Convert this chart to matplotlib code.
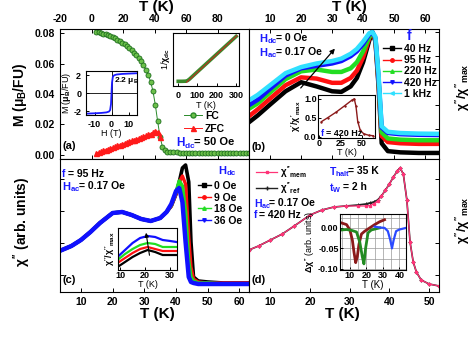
import numpy as np
import matplotlib.pyplot as plt
from matplotlib.lines import Line2D
from matplotlib.ticker import FormatStrFormatter

plt.rcParams.update({
    'font.family': ['Liberation Sans', 'DejaVu Sans'],
    'font.weight': 'bold',
    'mathtext.fontset': 'custom',
    'mathtext.rm': 'Liberation Sans:bold',
    'mathtext.it': 'Liberation Sans:bold',
    'mathtext.bf': 'Liberation Sans:bold',
    'mathtext.sf': 'Liberation Sans:bold',
    'axes.linewidth': 0.8,
    'xtick.direction': 'in', 'ytick.direction': 'in',
    'xtick.major.size': 3, 'ytick.major.size': 3,
    'xtick.major.width': 0.7, 'ytick.major.width': 0.7,
    'xtick.labelsize': 7.5, 'ytick.labelsize': 7.5,
    'axes.unicode_minus': False,
})

# ---- (a) magnetisation FC / ZFC ----
FC_T = [3, 4.5, 6, 7.5, 9, 10.5, 12, 13.5, 15, 16.5, 18, 19.5, 21, 22.5, 24, 25.5,
        27, 28.5, 30, 31.5, 33, 34.5, 36, 37.5, 39, 40.5, 42, 43.5, 45, 46.5, 48,
        50, 52, 54, 56, 58, 60, 62, 64, 66, 68, 70, 72, 74, 76, 78, 80, 82, 84,
        86, 88, 90, 92, 94, 96, 98, 100]
FC_M = [0.0808, 0.0805, 0.0801, 0.0797, 0.0792, 0.0786, 0.0780, 0.0773, 0.0765,
        0.0757, 0.0748, 0.0738, 0.0727, 0.0715, 0.0702, 0.0688, 0.0672, 0.0655,
        0.0636, 0.0614, 0.0589, 0.0560, 0.0525, 0.0482, 0.0420, 0.0330, 0.0220,
        0.0120, 0.0055, 0.0030, 0.0021,
        0.0018, 0.0017, 0.0016, 0.0015, 0.0015, 0.0014, 0.0014, 0.0013, 0.0013,
        0.0013, 0.0012, 0.0012, 0.0012, 0.0012, 0.0011, 0.0011, 0.0011, 0.0011,
        0.0011, 0.0010, 0.0010, 0.0010, 0.0010, 0.0010, 0.0010, 0.0010]
ZFC_T = [3, 4.5, 6, 7.5, 9, 10.5, 12, 13.5, 15, 16.5, 18, 19.5, 21, 22.5, 24, 25.5,
         27, 28.5, 30, 31.5, 33, 34.5, 36, 37.5, 39, 40.5, 42, 43.5]
ZFC_M = [0.0012, 0.0018, 0.0023, 0.0029, 0.0034, 0.0040, 0.0045, 0.0051, 0.0056,
         0.0062, 0.0067, 0.0073, 0.0078, 0.0084, 0.0089, 0.0095, 0.0100, 0.0106,
         0.0111, 0.0117, 0.0122, 0.0128, 0.0134, 0.0140, 0.0148, 0.0160, 0.0152,
         0.0115]

# inset: M(H) loop
MH_H = [-15, -10, -6, -3, -1.5, -0.8, -0.3, 0, 0.3, 0.8, 1.5, 3, 6, 10, 15]
MH_M = [-2.25, -2.21, -2.17, -2.11, -2.02, -1.85, -1.2, 0, 1.2, 1.85, 2.02, 2.11,
        2.17, 2.21, 2.25]
# inset: inverse susceptibility
INV_T = [2, 20, 40, 50, 60, 100, 150, 200, 250, 300]
INV_CHI = [0.4, 0.4, 0.45, 0.7, 1.3, 4.2, 7.8, 11.4, 15.0, 18.6]
FIT_T = [45, 305]
FIT_CHI = [0.0, 19.0]

# ---- (b) frequency dependence ----
B_T = [3.5, 6, 10, 15, 20, 25, 30, 33, 36, 38, 40, 42, 43, 44, 45, 46, 48, 52, 58, 64.5]
B_40 = [0.26, 0.31, 0.40, 0.51, 0.585, 0.55, 0.51, 0.505, 0.55, 0.62, 0.75, 0.93,
        1.0, 0.92, 0.55, 0.08, 0.015, 0.005, 0.0, 0.0]
B_95 = [0.31, 0.36, 0.45, 0.56, 0.625, 0.615, 0.58, 0.58, 0.62, 0.68, 0.79, 0.95,
        1.0, 0.93, 0.58, 0.14, 0.09, 0.08, 0.075, 0.075]
B_220 = [0.37, 0.41, 0.50, 0.61, 0.675, 0.69, 0.67, 0.67, 0.70, 0.75, 0.84, 0.96,
         1.0, 0.94, 0.60, 0.17, 0.12, 0.11, 0.105, 0.105]
B_420 = [0.40, 0.44, 0.53, 0.64, 0.70, 0.72, 0.74, 0.76, 0.80, 0.84, 0.90, 0.98,
         1.0, 0.95, 0.62, 0.21, 0.165, 0.155, 0.15, 0.148]
B_1k = [0.44, 0.48, 0.56, 0.66, 0.71, 0.74, 0.76, 0.78, 0.82, 0.86, 0.92, 0.99,
        1.0, 0.96, 0.65, 0.22, 0.175, 0.165, 0.16, 0.158]
B_LABELS = ['40 Hz', '95 Hz', '220 Hz', '420 Hz', '1 kHz']
B_COLORS = ['black', '#ff1010', '#22dd22', '#1010ff', '#30e0ff']
B_MARKERS = ['s', 'o', '^', 'v', '<']
# inset: real part
BI_T = [3, 10, 20, 30, 38, 41, 43, 45, 48, 52, 58, 63]
BI_CHI = [0.40, 0.50, 0.65, 0.82, 0.96, 1.0, 0.80, 0.40, 0.17, 0.08, 0.04, 0.03]

# ---- (c) dc field dependence ----
C_T = [4, 7, 10, 13, 16, 20, 23, 26, 29, 32, 35, 37, 38.5, 40, 41, 42, 43, 44,
       44.7, 45.5, 47, 50, 55, 63]
C_0 = [42, 46, 52, 60, 69, 79, 80, 77, 73, 71, 74, 80, 86, 98, 110, 124, 127, 110,
       50, 15, 11, 10, 9, 9]
C_9 = [42, 46, 52, 60, 69, 79, 80, 77, 73, 71, 74, 80, 86, 98, 110, 116, 108, 55,
       25, 13, 10, 9, 9, 9]
C_18 = [42, 46, 52, 60, 69, 79, 80, 77, 73, 71, 74, 80, 87, 100, 111, 106, 80, 30,
        15, 11, 9, 9, 8, 8]
C_36 = [42, 46, 52, 60, 69, 79, 80, 77, 73, 71, 74, 80, 88, 101, 104, 90, 50, 15,
        10, 9, 8, 8, 8, 8]
C_LABELS = ['0 Oe', '9 Oe', '18 Oe', '36 Oe']
C_COLORS = ['black', '#ff1010', '#22dd22', '#1010ff']
C_MARKERS = ['s', 'o', '^', 'v']
CI_T = [9, 12, 15, 18, 21, 24, 27, 30, 32.5]
CI_0 = [3, 8, 13, 17, 20, 18, 15, 15, 15]
CI_9 = [7, 12, 17, 21, 23, 21, 19, 19, 19]
CI_18 = [10, 16, 21, 25, 27, 26, 23, 23, 23]
CI_36 = [13, 20, 27, 32, 34, 33, 30, 29, 28]

# ---- (d) memory ----
D_T = [4.6, 7, 10, 13, 16, 20, 23, 26, 29, 32, 34, 35, 36, 37, 38, 39, 40, 41, 42,
       42.7, 43.5, 44.4, 45.2, 46, 46.8, 48, 50, 52.5]
D_REF = [42, 46, 52, 58, 66, 77, 82, 85, 86, 87, 88, 89, 90, 92, 96, 102, 108, 115,
         121, 124, 118, 92, 50, 30, 20, 12, 8, 6]
D_MEM = [42, 46, 52, 58, 66, 77, 82, 85, 86, 86, 86, 86.5, 88, 91, 96, 102, 108, 115,
         121, 124, 118, 92, 50, 30, 20, 12, 8, 6]
DR_T = [5, 8, 10, 11.5, 12.5, 13.5, 14.5, 15.5, 17, 19, 22, 25, 28, 31]
DR_V = [0.012, 0.008, -0.005, -0.03, -0.06, -0.085, -0.07, -0.04, -0.015, -0.008,
        0.0, 0.008, 0.015, 0.02]
DG_T = [5, 8, 11, 14, 16, 17.5, 18.5, 19.5, 21, 23, 26, 28]
DG_V = [-0.005, -0.004, -0.006, -0.01, -0.035, -0.07, -0.088, -0.05, -0.012,
        -0.005, -0.002, 0.0]
DB_T = [25, 28, 31, 33, 34.5, 35.5, 36.5, 38, 40, 42, 44]
DB_V = [0.003, 0.001, 0.0, -0.008, -0.03, -0.05, -0.03, -0.008, -0.004, -0.002, 0.0]

W, H = 474, 338
fig = plt.figure(figsize=(W / 100, H / 100), dpi=100)


def box(x0, y0, x1, y1):
    return fig.add_axes([x0 / W, 1 - y1 / H, (x1 - x0) / W, (y1 - y0) / H])


def ftext(x, y, s, **kw):
    kw.setdefault('va', 'center')
    kw.setdefault('ha', 'left')
    return fig.text(x / W, 1 - y / H, s, **kw)


def legend_at(ax, handles, labels, x, y, **kw):
    opts = dict(loc='upper left', bbox_to_anchor=(x / W, 1 - y / H),
                bbox_transform=fig.transFigure, frameon=False, fontsize=7.5,
                handlelength=1.7, handletextpad=0.3, borderpad=0, borderaxespad=0)
    opts.update(kw)
    ax.legend(handles, labels, **opts)


BLUE = '#1a1aff'

# ================= panel (a) =================
axA = box(60, 29, 249, 159)
axA.plot(FC_T, FC_M, '-o', color='#2a8a2a', mfc='#6cc04a', mec='#1d6e1d',
         ms=3.6, lw=0.7, mew=0.6)
axA.plot(ZFC_T, ZFC_M, '-^', color='#ff1a1a', ms=3.6, lw=0.7)
axA.set_xlim(-20, 100)
axA.set_ylim(-0.0027, 0.0827)
axA.set_xticks([-20, 0, 20, 40, 60, 80])
axA.set_yticks([0, 0.02, 0.04, 0.06, 0.08])
axA.yaxis.set_major_formatter(FormatStrFormatter('%.2f'))
axA.tick_params(top=True, bottom=True, labeltop=True, labelbottom=False, right=False)
legend_at(axA, [Line2D([], [], color='#2a8a2a', marker='o', mfc='#6cc04a', ms=3.6, lw=0.7),
                Line2D([], [], color='#ff1a1a', marker='^', ms=3.6, lw=0.7)],
          ['FC', 'ZFC'], 184, 111, labelspacing=0.25)
ftext(176, 143, r"$\mathbf{H_{dc}}$", color=BLUE, fontsize=8.5)
ftext(194, 142, "= 50 Oe", fontsize=8)
ftext(63, 146, "(a)", fontsize=8)

# inset M(H)
axA1 = box(86, 71, 137, 115)
axA1.axhline(0, color='k', lw=0.6)
axA1.axvline(0, color='k', lw=0.6)
axA1.plot(MH_H, MH_M, color='#1a1aff', lw=1.3)
axA1.set_xlim(-15, 15)
axA1.set_ylim(-2.4, 2.5)
axA1.set_xticks([-10, 0, 10])
axA1.set_yticks([-2, 0, 2])
axA1.tick_params(labelsize=6.5, length=2)
axA1.set_xlabel('H (T)', fontsize=6.5, labelpad=0)
axA1.set_ylabel(r"M ($\mu_{\rm B}$/FU)", fontsize=6.5, labelpad=0)
axA1.text(1.5, 1.25, r"2.2 $\mu_{\rm B}$", fontsize=6)

# inset 1/chi
axA2 = box(173, 33, 239, 86)
axA2.plot(INV_T, INV_CHI, color='#3a8a2a', lw=2.6)
axA2.plot(FIT_T, FIT_CHI, color='#d02020', lw=0.7)
axA2.set_xlim(-25, 315)
axA2.set_ylim(-1.5, 20)
axA2.set_xticks([0, 100, 200, 300])
axA2.set_yticks([])
axA2.tick_params(labelsize=6.5, length=2)
axA2.set_xlabel('T (K)', fontsize=6.5, labelpad=1)
axA2.set_ylabel(r"1/$\chi_{\rm dc}$", fontsize=6.5, labelpad=1)

# ================= panel (b) =================
axB = box(249, 29, 439, 159)
for vals, c in zip([B_40, B_95, B_220, B_420, B_1k], B_COLORS):
    axB.plot(B_T, vals, color=c, lw=3.2, solid_joinstyle='round')
axB.set_xlim(3.2, 64.5)
axB.set_ylim(-0.05, 1.025)
axB.set_xticks([10, 20, 30, 40, 50, 60])
axB.set_yticks([0, 0.2, 0.4, 0.6, 0.8, 1.0])
axB.tick_params(top=True, bottom=True, labeltop=True, labelbottom=False,
                left=False, labelleft=False, right=True)
legend_at(axB, [Line2D([], [], color=c, marker=m, ms=2.5, lw=1) for c, m in zip(B_COLORS, B_MARKERS)],
          B_LABELS, 383, 44, labelspacing=0.12)
ftext(407, 36, "f", color=BLUE, fontsize=10)
ftext(259, 39, r"$\mathbf{H_{dc}}$", color=BLUE, fontsize=8)
ftext(276, 38, "= 0 Oe", fontsize=7.5)
ftext(259, 53, r"$\mathbf{H_{ac}}$", color=BLUE, fontsize=8)
ftext(276, 52, "= 0.17 Oe", fontsize=7.5)
ftext(252, 147, "(b)", fontsize=8)
axB.annotate('', xy=(31.5, 0.88), xytext=(19.3, 0.52),
             arrowprops=dict(arrowstyle='-|>', color='k', lw=0.9, mutation_scale=7))

axB1 = box(318, 95, 375, 138)
axB1.plot(BI_T, BI_CHI, color='#8b1a1a', lw=1.0, marker='+', ms=2)
axB1.set_xlim(-1, 65)
axB1.set_ylim(-0.03, 1.1)
axB1.set_xticks([0, 25, 50])
axB1.set_yticks([0, 0.5, 1.0])
axB1.yaxis.set_major_formatter(FormatStrFormatter('%.1f'))
axB1.tick_params(labelsize=6.5, length=2, pad=1)
axB1.set_xlabel('T (K)', fontsize=6.5, labelpad=0)
axB1.set_ylabel(r"$\chi'/\chi'_{\rm max}$", fontsize=6.5, labelpad=1)
ftext(321, 133, "f", color=BLUE, fontsize=6.5)
ftext(326, 133, "= 420 Hz", fontsize=6.5)

# ================= panel (c) =================
axC = box(60, 159, 249, 292)
for vals, c, lw in zip([C_0, C_9, C_18, C_36], C_COLORS, [2.6, 2.4, 2.6, 3.2]):
    axC.plot(C_T, vals, color=c, lw=lw, solid_joinstyle='round')
axC.set_xlim(3.4, 63)
axC.set_ylim(0, 133)
axC.set_xticks([10, 20, 30, 40, 50, 60])
axC.set_yticks([17, 49, 81, 113])
axC.tick_params(labelleft=False, right=False, top=False)
legend_at(axC, [Line2D([], [], color=c, marker=m, ms=2.5, lw=1) for c, m in zip(C_COLORS, C_MARKERS)],
          C_LABELS, 198, 181, labelspacing=0.15, handlelength=1.2)
ftext(218, 171, r"$\mathbf{H_{dc}}$", color=BLUE, fontsize=8)
ftext(62, 174, "f", color=BLUE, fontsize=7.5)
ftext(68, 174, "= 95 Hz", fontsize=7.5)
ftext(62, 187, r"$\mathbf{H_{ac}}$", color=BLUE, fontsize=8)
ftext(79, 186, "= 0.17 Oe", fontsize=7.5)
ftext(63, 280, "(c)", fontsize=8)

axC1 = box(118, 228, 177, 270)
for vals, c in zip([CI_0, CI_9, CI_18, CI_36], C_COLORS):
    axC1.plot(CI_T, vals, color=c, lw=1.6)
axC1.set_xlim(9.2, 32.7)
axC1.set_ylim(0, 42)
axC1.set_xticks([10, 20, 30])
axC1.set_yticks([])
axC1.tick_params(labelsize=6.5, length=2, pad=1)
axC1.set_xlabel('T (K)', fontsize=6.5, labelpad=0)
axC1.set_ylabel(r"$\chi''/\chi''_{\rm max}$", fontsize=6.5, labelpad=1)
axC1.annotate('', xy=(20.2, 40), xytext=(21.9, 12),
              arrowprops=dict(arrowstyle='-|>', color='k', lw=0.8, mutation_scale=6))

# ================= panel (d) =================
axD = box(249, 159, 439, 292)
axD.plot(D_T, D_REF, color='#222222', lw=1.2, marker='+', ms=3, mew=0.7)
axD.plot(D_T, D_MEM, color='#ff3377', lw=0.9, marker='s', ms=1.6)
axD.set_xlim(4.6, 52.5)
axD.set_ylim(0, 133)
axD.set_xticks([10, 20, 30, 40, 50])
axD.set_yticks([17, 49, 81, 113])
axD.tick_params(left=False, labelleft=False, right=True, top=False)
legend_at(axD, [Line2D([], [], color='#ff3377', marker='s', ms=1.8, lw=0.9),
                Line2D([], [], color='#222222', marker='+', ms=3, lw=1.0)],
          [r"$\chi''_{\rm mem}$", r"$\chi''_{\rm ref}$"], 256, 164, labelspacing=0.0,
          handlelength=2.2, fontsize=7)
ftext(329, 172, r"$\mathbf{T_{halt}}$", color=BLUE, fontsize=7.5)
ftext(348, 171, "= 35 K", fontsize=7.5)
ftext(329, 188, r"$\mathbf{t_{W}}$", color=BLUE, fontsize=7.5)
ftext(343, 187, "= 2 h", fontsize=7.5)
ftext(254, 204, r"$\mathbf{H_{ac}}$", color=BLUE, fontsize=7.5)
ftext(269, 203, "= 0.17 Oe", fontsize=7.5)
ftext(254, 215, "f", color=BLUE, fontsize=7.5)
ftext(259, 215, "= 420 Hz", fontsize=7.5)
ftext(252, 280, "(d)", fontsize=8)

axD1 = box(340, 214, 406, 270)
axD1.set_axisbelow(True)
axD1.plot(DR_T, DR_V, color='#8b1a1a', lw=2.0)
axD1.plot(DG_T, DG_V, color='#228b22', lw=2.0)
axD1.plot(DB_T, DB_V, color='#2a4aff', lw=1.6)
axD1.set_xlim(4, 44)
axD1.set_ylim(-0.103, 0.034)
axD1.set_xticks([10, 20, 30, 40])
axD1.set_xticks([5, 15, 25, 35], minor=True)
axD1.set_yticks([0.0, -0.05, -0.10])
axD1.set_yticks([0.025, -0.025, -0.075], minor=True)
axD1.grid(True, which='both', color='#999999', lw=0.5)
axD1.yaxis.set_major_formatter(FormatStrFormatter('%.2f'))
axD1.tick_params(labelsize=6.5, length=2, pad=1)
axD1.tick_params(which='minor', length=0)
axD1.set_xlabel('T (K)', fontsize=7, labelpad=0)
axD1.set_ylabel(r"$\Delta\chi''$ (arb. units)", fontsize=6.5, labelpad=1)

# ---- outer labels ----
ftext(156, 7, "T (K)", fontsize=11, ha='center')
ftext(349, 7, "T (K)", fontsize=11, ha='center')
ftext(157, 314, "T (K)", fontsize=11, ha='center')
ftext(342, 314, "T (K)", fontsize=11, ha='center')
ftext(20, 95, r"M ($\mu_{\rm B}$/FU)", fontsize=10, rotation=90, ha='center')
ftext(22, 222, r"$\chi''$ (arb. units)", fontsize=10, rotation=90, ha='center')
ftext(463, 87, r"$\chi''/\chi''_{\rm max}$", fontsize=9, rotation=90, ha='center')
ftext(463, 220, r"$\chi''/\chi''_{\rm max}$", fontsize=9, rotation=90, ha='center')

fig.savefig('out.png', dpi=100)
